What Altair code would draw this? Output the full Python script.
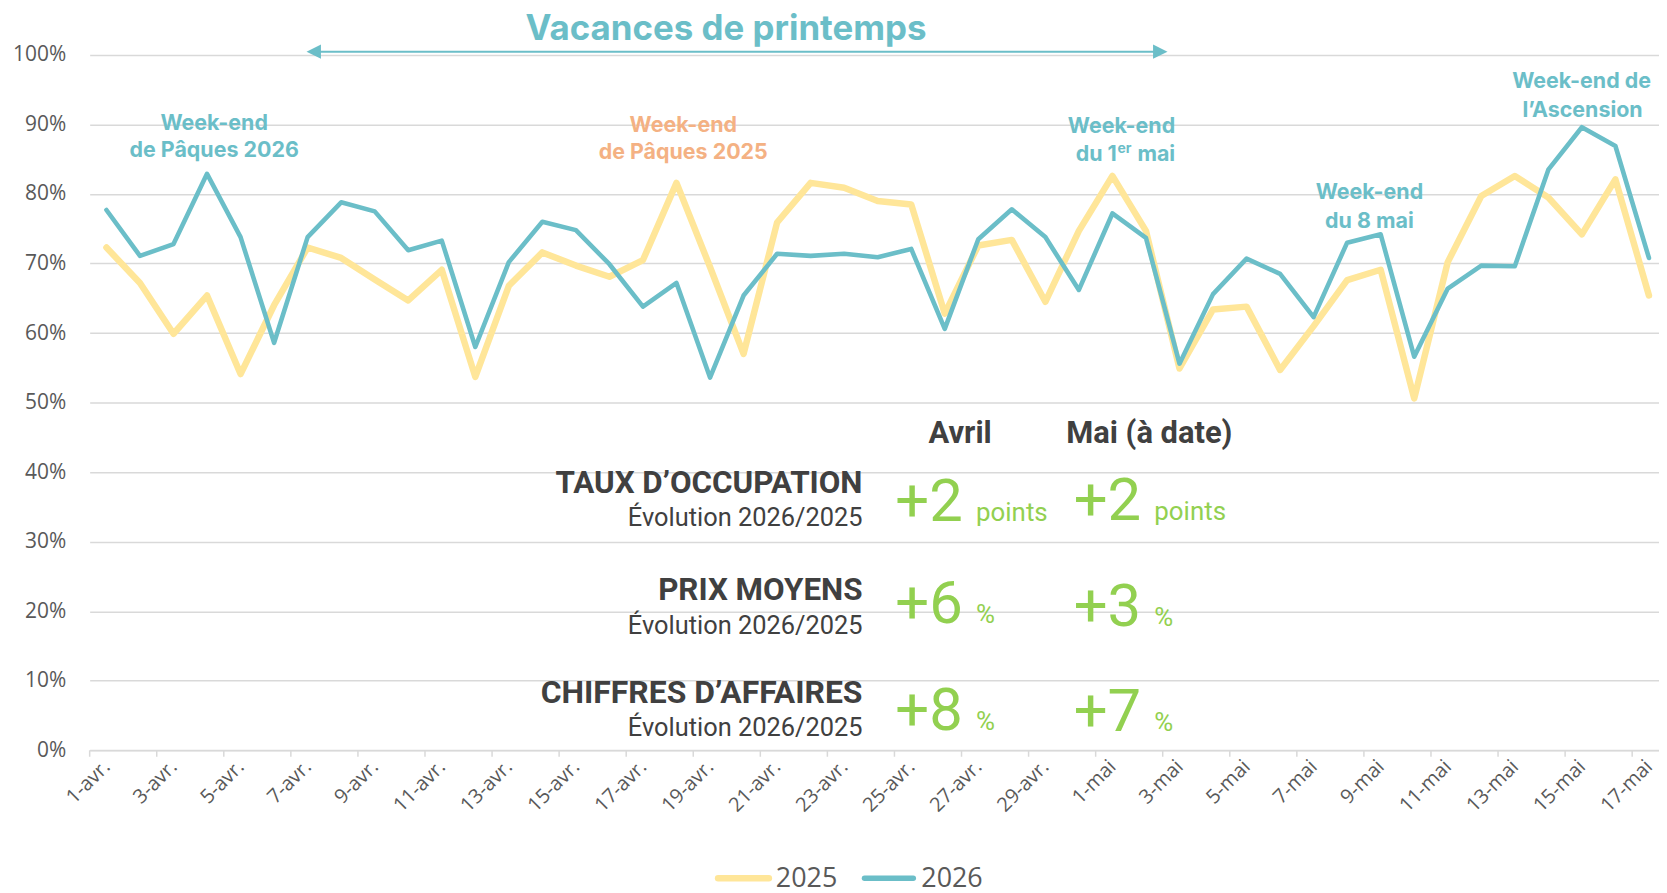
import json
import altair as alt
import numpy as np
import pandas as pd

# ---------------- data ----------------
day_labels = [f"{d}-avr." for d in range(1, 31)] + [f"{d}-mai" for d in range(1, 18)]

occ_2025 = [72.3, 67.2, 59.9, 65.4, 54.1, 64.0, 72.3, 70.8, 67.7, 64.7, 69.1, 53.7, 66.8, 71.6,
            69.7, 68.1, 70.5, 81.6, 69.5, 57.0, 75.9, 81.6, 80.9, 79.0, 78.5, 62.8, 72.6, 73.4, 64.5, 74.7,
            82.6, 74.7, 54.9, 63.4, 63.8, 54.7, 61.0, 67.6, 69.1, 50.6, 70.2, 79.7, 82.6, 79.5, 74.2, 82.1, 65.4]
occ_2026 = [77.7, 71.1, 72.8, 82.9, 73.8, 58.6, 73.8, 78.8, 77.5, 71.9, 73.3, 58.0, 70.2, 76.0,
            74.8, 69.9, 63.8, 67.2, 53.6, 65.4, 71.4, 71.1, 71.4, 70.9, 72.1, 60.6, 73.5, 77.8, 73.8, 66.2,
            77.2, 73.7, 55.6, 65.6, 70.7, 68.5, 62.3, 73.0, 74.2, 56.6, 66.4, 69.7, 69.6, 83.5, 89.6, 86.9, 70.8]
years = ["2025", "2026"]
y_ticks = list(range(0, 101, 10))

title_text = "Vacances de printemps"
annotations = [["Week-end", "de Pâques 2026"], ["Week-end", "de Pâques 2025"],
               ["Week-end", "du 1", "er", "mai"], ["Week-end", "du 8 mai"],
               ["Week-end de", "l’Ascension"]]

periods = ["Avril", "Mai (à date)"]
metrics = ["TAUX D’OCCUPATION", "PRIX MOYENS", "CHIFFRES D’AFFAIRES"]
subtitle = "Évolution 2026/2025"
avril_vals = ["+2", "+6", "+8"]
mai_vals = ["+2", "+3", "+7"]
units = ["points", "%", "%"]

# ---------------- style ----------------
TEAL = "#6BBEC8"
YELLOW = "#FFE699"
ORANGE = "#F4B183"
GREEN = "#92D050"
DARK = "#404040"
GREY = "#595959"
GRID = "#D9D9D9"
AX_FONT = "Open Sans"
ANN_FONT = "Inter"
TAB_FONT = "Roboto"

X0, Y0 = 90.0, 53.3            # page position of plot origin
DAY = 33.67                    # px per day
XMAX = 46.8
W = XMAX * DAY
H = 751.5 - Y0
CANVAS_H = 885

n = len(day_labels)
df = pd.DataFrame({
    "pos": np.concatenate([np.arange(n) + 0.5] * 2),
    "val": occ_2025 + occ_2026,
    "year": [years[0]] * n + [years[1]] * n,
})
ticks_df = pd.DataFrame({"pos": np.arange(0, n, 2).astype(float)})

label_expr = json.dumps(day_labels, ensure_ascii=False) + "[floor(datum.value)]"

X_ENC = alt.X("pos:Q", title=None,
              scale=alt.Scale(domain=[0, XMAX], nice=False, zero=False),
              axis=alt.Axis(values=[k + 0.5 for k in range(0, n, 2)], labelExpr=label_expr,
                            labelAngle=315, labelAlign="right", labelBaseline="middle",
                            labelPadding=13, ticks=False, tickSize=0, grid=False,
                            domainColor=GRID, domainWidth=1.5,
                            labelFont=AX_FONT, labelFontSize=20, labelColor=GREY,
                            labelOverlap=False, labelFlush=False))
Y_ENC = alt.Y("val:Q", title=None,
              scale=alt.Scale(domain=[0, 100], nice=False),
              axis=alt.Axis(values=y_ticks, labelExpr="datum.value + '%'", ticks=False, tickSize=0,
                            domain=False, grid=True, gridColor=GRID, gridWidth=1.5,
                            labelPadding=24, labelFont=AX_FONT, labelFontSize=21, labelColor=GREY))

base = alt.Chart(df)
line25 = base.transform_filter(alt.datum.year == years[0]).mark_line(
    color=YELLOW, strokeWidth=6.5, strokeCap="round", strokeJoin="round").encode(x=X_ENC, y=Y_ENC)
line26 = base.transform_filter(alt.datum.year == years[1]).mark_line(
    color=TEAL, strokeWidth=4.6, strokeCap="round", strokeJoin="round").encode(x=X_ENC, y=Y_ENC)

tick_marks = alt.Chart(ticks_df).mark_rule(color=GRID, strokeWidth=1.5).encode(
    x=X_ENC, y=alt.value(H), y2=alt.value(H + 6.5))


def one():
    return alt.Data(values=[{"a": 1}])


def T(text, px, py, size, color, weight="normal", align="left", font=ANN_FONT):
    return alt.Chart(alt.Data(values=[{"t": text}])).mark_text(
        align=align, baseline="alphabetic", font=font, fontSize=size,
        fontWeight=weight, color=color).encode(
        x=alt.value(px - X0), y=alt.value(py - Y0), text="t:N")


def R(px1, px2, py, color, width, cap="butt"):
    return alt.Chart(one()).mark_rule(color=color, strokeWidth=width, strokeCap=cap).encode(
        x=alt.value(px1 - X0), x2=alt.value(px2 - X0), y=alt.value(py - Y0))


def P(shape, px, py, color, size):
    return alt.Chart(one()).mark_point(shape=shape, filled=True, opacity=1, color=color,
                                       size=size, strokeWidth=0).encode(
        x=alt.value(px - X0), y=alt.value(py - Y0))


layers = [tick_marks, line25, line26]

# title + arrow
layers.append(T(title_text, 729, 38, 35, TEAL, "bold", "center"))
layers.append(R(314, 1166, 50, TEAL, 2))
layers.append(P("M-1,0L1,-1L1,1Z", 315, 50, TEAL, 210))
layers.append(P("M1,0L-1,-1L-1,1Z", 1165, 50, TEAL, 210))

# annotations
A = annotations
AS = 21.5
layers += [
    T(A[0][0], 215, 129, AS, TEAL, "bold", "center"),
    T(A[0][1], 215, 156, AS, TEAL, "bold", "center"),
    T(A[1][0], 686, 131, AS, ORANGE, "bold", "center"),
    T(A[1][1], 686, 158, AS, ORANGE, "bold", "center"),
    T(A[2][0], 1126, 132, AS, TEAL, "bold", "center"),
    T(A[2][1], 1080, 160, AS, TEAL, "bold", "left"),
    T(A[2][2], 1122, 152, 14, TEAL, "bold", "left"),
    T(A[2][3], 1142, 160, AS, TEAL, "bold", "left"),
    T(A[3][0], 1375, 198, AS, TEAL, "bold", "center"),
    T(A[3][1], 1375, 227, AS, TEAL, "bold", "center"),
    T(A[4][0], 1588, 87, AS, TEAL, "bold", "center"),
    T(A[4][1], 1589, 116, AS, TEAL, "bold", "center"),
]

# table
layers.append(T(periods[0], 964, 443, 31, DARK, "bold", "center", TAB_FONT))
layers.append(T(periods[1], 1154, 443, 31, DARK, "bold", "center", TAB_FONT))
lab_base = [493, 601, 704]
lab_size = [31.5, 31.5, 32]
sub_base = [526, 635, 737]
av_base = [521, 624, 731]
mai_base = [520, 627, 732]
for i in range(3):
    layers.append(T(metrics[i], 866, lab_base[i], lab_size[i], DARK, "bold", "right", TAB_FONT))
    layers.append(T(subtitle, 866, sub_base[i], 25.5, DARK, "normal", "right", TAB_FONT))
    layers.append(T(avril_vals[i], 899, av_base[i], 60, GREEN, "normal", "left", TAB_FONT))
    layers.append(T(units[i], 980, av_base[i], 26, GREEN, "normal", "left", TAB_FONT))
    layers.append(T(mai_vals[i], 1078, mai_base[i], 60, GREEN, "normal", "left", TAB_FONT))
    layers.append(T(units[i], 1159, mai_base[i], 26, GREEN, "normal", "left", TAB_FONT))

# legend
layers.append(R(721, 772, 880, YELLOW, 6.5, "round"))
layers.append(T(years[0], 779, 889, 27, GREY, "normal", "left", AX_FONT))
layers.append(R(868, 917, 880, TEAL, 5.5, "round"))
layers.append(T(years[1], 925, 889, 27, GREY, "normal", "left", AX_FONT))

chart = alt.layer(*layers).properties(
    width=W, height=H,
    autosize=alt.AutoSizeParams(type="none"),
    padding={"left": X0 - 8, "top": Y0 - 8, "right": 0, "bottom": CANVAS_H - (Y0 - 8) - H},
    background="white",
).configure_view(stroke=None)

chart.save("out.html", embed_options={"renderer": "svg", "actions": False})
